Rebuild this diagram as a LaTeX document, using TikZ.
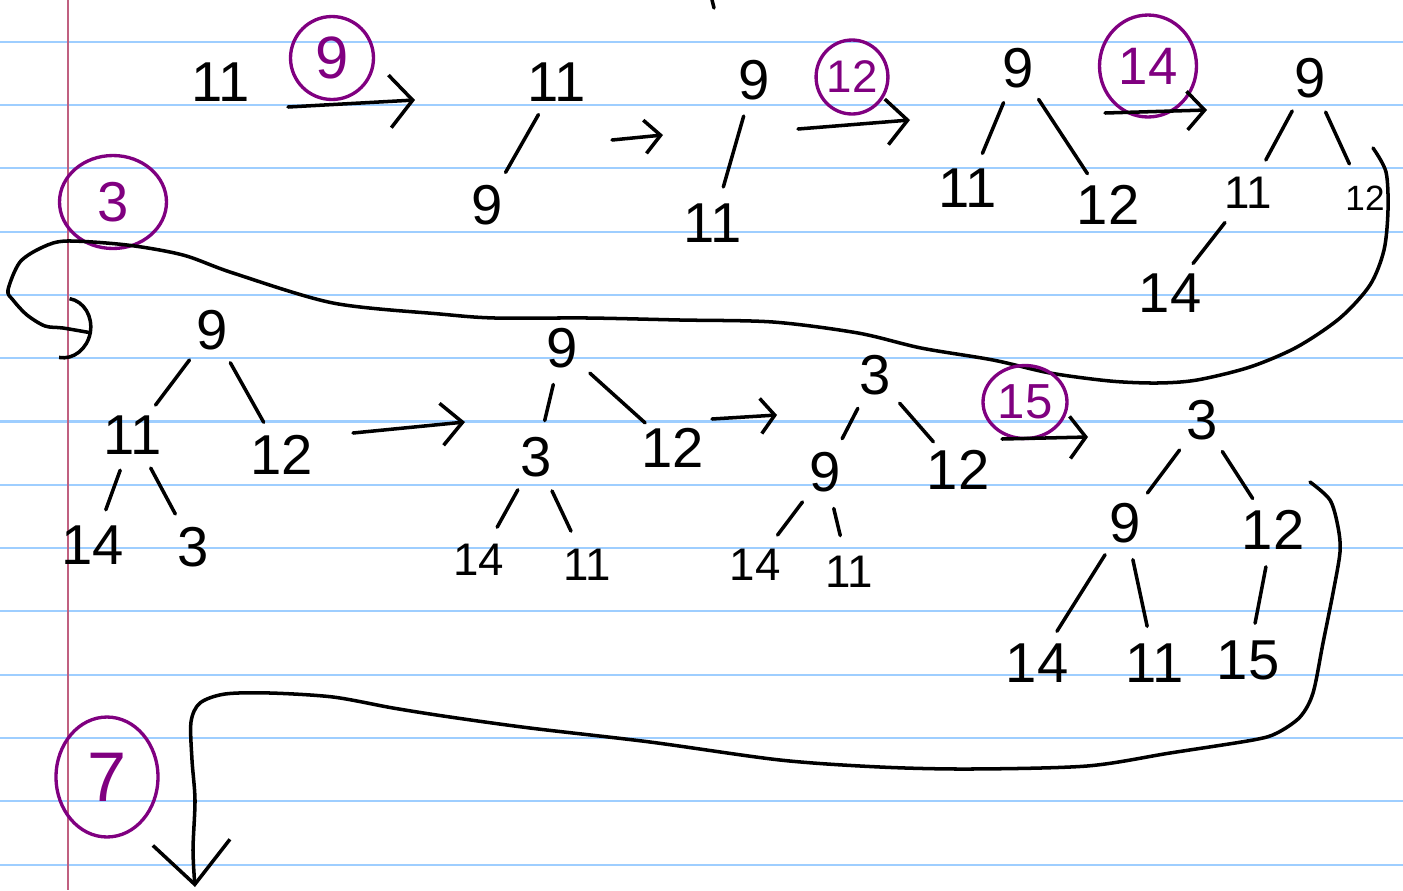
\documentclass[tikz,border=0pt]{standalone}
\usepackage{fontspec}
\setmainfont{Liberation Sans}
\usetikzlibrary{arrows.meta}
\usetikzlibrary{shapes.geometric}
\definecolor{ruleblue}{RGB}{158,206,255}
\definecolor{margin}{RGB}{192,96,128}
\definecolor{ink}{RGB}{128,0,128}

\begin{document}
\begin{tikzpicture}[x=0.02cm, y=-0.02cm,
    num/.style={font=\fontsize{32}{36}\selectfont, inner sep=0pt},
    sm/.style={font=\fontsize{26}{30}\selectfont, inner sep=0pt},
    xs/.style={font=\fontsize{20}{24}\selectfont, inner sep=0pt},
    ring/.style={draw=ink, text=ink, ellipse, line width=1.9pt, inner sep=0pt},
    br/.style={line width=2pt, line cap=round, shorten <=0.75cm, shorten >=0.75cm},
    nextarr/.style={line width=2pt, line cap=round, line join=round}]
    
    \useasboundingbox (0,0) rectangle (1403,890);
    
    % Paper
    \foreach \k in {0,...,13}
        \draw[ruleblue, line width=1.2pt] (0,{41.7+63.3*\k}) -- (1403,{41.7+63.3*\k});
    \draw[margin, line width=1.2pt] (68,0) -- (68,890);
    \draw[nextarr] (712,0) -- (714,8);
    
    % Insert 9
    \node[num] (t1a) at (221,82) {11};
    \node[ring, minimum width=1.66cm, minimum height=1.66cm, font=\fontsize{34}{38}\selectfont] (c9) at (332,58) {9};
    \coordinate (a1s) at (288,107);
    \coordinate (a1e) at (415,100);
    \draw[nextarr, -{Straight Barb[length=13pt,width=30pt]}] (a1s) -- (a1e);
    
    \node[num] (t2a) at (557,82) {11};
    \node[num] (t2b) at (487,205) {9};
    \draw[br] (t2a.center) -- (t2b.center);
    \coordinate (a2s) at (612,140);
    \coordinate (a2e) at (663,135);
    \draw[nextarr, -{Straight Barb[length=9pt,width=19pt]}] (a2s) -- (a2e);
    
    \node[num] (t3a) at (754,80) {9};
    \node[num] (t3b) at (713,223) {11};
    \draw[br] (t3a.center) -- (t3b.center);
    
    % Insert 12
    \node[ring, minimum width=1.4cm, minimum height=1.48cm, font=\fontsize{26}{30}\selectfont] (c12) at (852,77) {12};
    \coordinate (a3s) at (798,129);
    \coordinate (a3e) at (910,120);
    \draw[nextarr, -{Straight Barb[length=12pt,width=26pt]}] (a3s) -- (a3e);
    
    \node[num] (t4a) at (1018,68) {9};
    \node[num] (t4b) at (968,188) {11};
    \node[num] (t4c) at (1108,205) {12};
    \draw[br] (t4a.center) -- (t4b.center);
    \draw[br] (t4a.center) -- (t4c.center);
    
    % Insert 14
    \node[ring, minimum width=1.94cm, minimum height=2.04cm, font=\fontsize{30}{34}\selectfont] (c14) at (1148,66) {14};
    \coordinate (a4s) at (1105,113);
    \coordinate (a4e) at (1207,110);
    \draw[nextarr, -{Straight Barb[length=10pt,width=22pt]}] (a4s) -- (a4e);
    
    \node[num] (t5a) at (1310,78) {9};
    \node[sm] (t5b) at (1248,193) {11};
    \node[xs] (t5c) at (1365,198) {12};
    \node[num] (t5d) at (1170,293) {14};
    \draw[br] (t5a.center) -- (t5b.center);
    \draw[br] (t5a.center) -- (t5c.center);
    \draw[br] (t5b.center) -- (t5d.center);
    
    % Insert 3
    \node[ring, minimum width=2.14cm, minimum height=1.86cm, font=\fontsize{32}{36}\selectfont] (c3) at (113,202) {3};
    \coordinate (w1s) at (1373,148);
    \coordinate (w1e) at (92,333);
    \draw[nextarr, -{Arc Barb[length=16pt,width=36pt]}] plot[smooth] coordinates {(w1s) (1386,172) (1388,210) (1384,250) (1370,285) (1340,318) (1297,347) (1250,367) (1197,380) (1157,383) (1110,381) (1050,373) (993,360) (921,348) (858,333) (773,322) (680,320) (588,318) (495,318) (440,314) (333,303) (233,273) (183,255) (127,245) (67,241) (43,247) (20,262) (8,290) (13,300) (27,315) (45,326) (63,328) (w1e)};
    
    \node[num] (t6a) at (212,330) {9};
    \node[num] (t6b) at (133,435) {11};
    \node[num] (t6c) at (282,455) {12};
    \node[num] (t6d) at (93,545) {14};
    \node[num] (t6e) at (193,547) {3};
    \draw[br] (t6a.center) -- (t6b.center);
    \draw[br] (t6a.center) -- (t6c.center);
    \draw[br] (t6b.center) -- (t6d.center);
    \draw[br] (t6b.center) -- (t6e.center);
    \coordinate (a5s) at (353,433);
    \coordinate (a5e) at (465,422);
    \draw[nextarr, -{Straight Barb[length=12pt,width=24pt]}] (a5s) -- (a5e);
    
    \node[num] (t7a) at (562,348) {9};
    \node[num] (t7b) at (536,457) {3};
    \node[num] (t7c) at (673,448) {12};
    \node[sm] (t7d) at (479,560) {14};
    \node[sm] (t7e) at (587,565) {11};
    \draw[br] (t7a.center) -- (t7b.center);
    \draw[br] (t7a.center) -- (t7c.center);
    \draw[br] (t7b.center) -- (t7d.center);
    \draw[br] (t7b.center) -- (t7e.center);
    \coordinate (a6s) at (712,419);
    \coordinate (a6e) at (777,415);
    \draw[nextarr, -{Straight Barb[length=8pt,width=20pt]}] (a6s) -- (a6e);
    
    \node[num] (t8a) at (875,375) {3};
    \node[num] (t8b) at (825,472) {9};
    \node[num] (t8c) at (958,470) {12};
    \node[sm] (t8d) at (755,565) {14};
    \node[sm] (t8e) at (849,572) {11};
    \draw[br] (t8a.center) -- (t8b.center);
    \draw[br] (t8a.center) -- (t8c.center);
    \draw[br] (t8b.center) -- (t8d.center);
    \draw[br] (t8b.center) -- (t8e.center);
    
    % Insert 15
    \node[ring, minimum width=1.68cm, minimum height=1.46cm, font=\fontsize{28}{32}\selectfont] (c15) at (1025,402) {15};
    \coordinate (a7s) at (1002,439);
    \coordinate (a7e) at (1088,437);
    \draw[nextarr, -{Straight Barb[length=9pt,width=24pt]}] (a7s) -- (a7e);
    
    \node[num] (t9a) at (1202,420) {3};
    \node[num] (t9b) at (1125,523) {9};
    \node[num] (t9c) at (1273,530) {12};
    \node[num] (t9d) at (1037,663) {14};
    \node[num] (t9e) at (1155,663) {11};
    \node[num] (t9f) at (1248,660) {15};
    \draw[br] (t9a.center) -- (t9b.center);
    \draw[br] (t9a.center) -- (t9c.center);
    \draw[br] (t9b.center) -- (t9d.center);
    \draw[br] (t9b.center) -- (t9e.center);
    \draw[br] (t9c.center) -- (t9f.center);
    
    % Insert 7
    \node[ring, minimum width=2.04cm, minimum height=2.4cm, font=\fontsize{40}{44}\selectfont] (c7) at (107,777) {7};
    \coordinate (w2s) at (1310,482);
    \coordinate (w2e) at (195,887);
    \draw[nextarr, -{Straight Barb[length=24pt,width=44pt]}] plot[smooth] coordinates {(w2s) (1330,500) (1338,527) (1340,552) (1333,593) (1323,643) (1313,693) (1300,717) (1277,733) (1253,740) (1170,753) (1087,766) (970,769) (880,767) (780,760) (650,742) (530,728) (450,717) (393,708) (333,697) (270,693) (225,694) (200,703) (191,722) (192,760) (195,800) (193,850) (w2e)};
    
\end{tikzpicture}
\end{document}
